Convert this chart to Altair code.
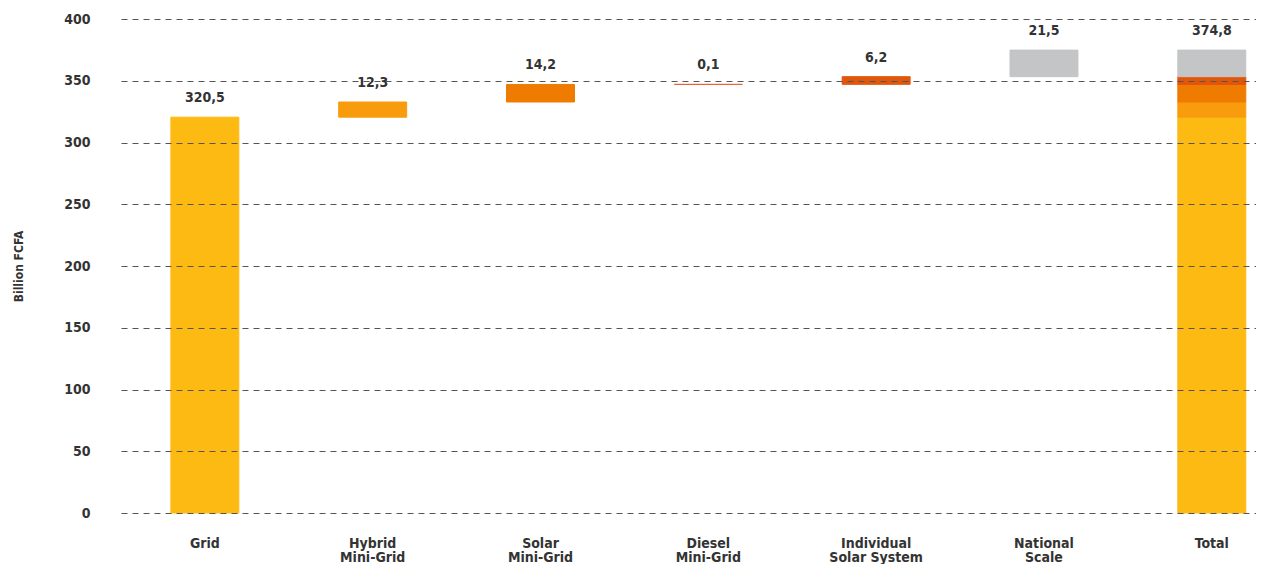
import altair as alt
import pandas as pd

# ---- data ----
categories = ["Grid", "Hybrid|Mini-Grid", "Solar|Mini-Grid", "Diesel|Mini-Grid",
              "Individual|Solar System", "National|Scale"]
total_name = "Total"
values = [320.5, 12.3, 14.2, 0.1, 6.2, 21.5]
colors = ["#FDBA13", "#F89C0E", "#EF7B00", "#E8603C", "#E0560B", "#C3C5C7"]

FONT = "DejaVu Sans Condensed, Liberation Sans Narrow, Roboto"


def fmt(v):
    return f"{v:.1f}".replace(".", ",")


rows = []
cum = 0.0
for c, v in zip(categories, values):
    rows.append(dict(cat=c, comp=c, start=cum, end=cum + v))
    cum += v
steps = pd.DataFrame(rows)
total_rows = steps.copy()
total_rows["cat"] = total_name
bar_df = pd.concat([steps, total_rows], ignore_index=True)

label_df = pd.DataFrame({
    "cat": categories + [total_name],
    "top": list(steps["end"]) + [cum],
    "text": [fmt(v) for v in values] + [fmt(cum)],
})

order = categories + [total_name]

x_enc = alt.X(
    "cat:N", sort=order,
    scale=alt.Scale(paddingInner=0.595, paddingOuter=0.179, align=0.83),
    axis=alt.Axis(title=None, labelExpr="split(datum.label, '|')", labelAngle=0,
                  labelFont=FONT, labelFontSize=14, labelFontWeight="bold",
                  labelColor="#333333",
                  labelPadding=23, labelBaseline="top", labelLineHeight=14,
                  ticks=False, domain=False, grid=False),
)

color_scale = alt.Scale(domain=categories, range=colors)

bars = alt.Chart(bar_df).mark_bar(strokeWidth=1).encode(
    x=x_enc,
    y=alt.Y("start:Q",
            scale=alt.Scale(domain=[0, 400], nice=False),
            axis=alt.Axis(title="Billion FCFA", values=list(range(0, 401, 50)),
                          grid=True, gridColor="#555555", gridDash=[6, 5], gridWidth=1,
                          zindex=1, ticks=False, domain=False,
                          labelFont=FONT, labelFontSize=14, labelFontWeight="bold",
                          labelColor="#333333", labelPadding=31,
                          titleFont=FONT, titleFontSize=12, titleFontWeight="bold",
                          titleColor="#333333", titlePadding=38)),
    y2="end:Q",
    color=alt.Color("comp:N", scale=color_scale, legend=None),
    stroke=alt.Stroke("comp:N", scale=color_scale, legend=None),
)

texts = alt.Chart(label_df).mark_text(
    font=FONT, fontSize=14, fontWeight="bold", color="#333333", dy=-19,
    baseline="middle"
).encode(
    x=alt.X("cat:N", sort=order),
    y=alt.Y("top:Q"),
    text="text:N",
)

chart = alt.layer(bars, texts).properties(
    width=1135, height=494,
    autosize=alt.AutoSizeParams(type="none"),
    padding={"left": 113, "top": 11, "right": 0, "bottom": 51},
    background="white",
).configure_view(stroke=None)

chart.save("out.html", embed_options={"renderer": "svg", "actions": False})
